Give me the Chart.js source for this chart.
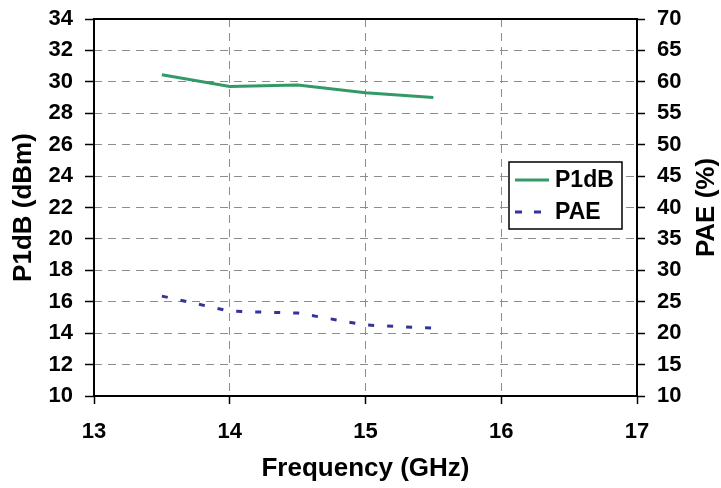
<!DOCTYPE html>
<html>
<head>
<meta charset="utf-8">
<title>P1dB and PAE vs Frequency</title>
<script src="https://cdn.jsdelivr.net/npm/chart.js@4/dist/chart.umd.min.js"></script>
<style>
  html, body { margin: 0; padding: 0; background: #fff; }
  #wrap { width: 721px; height: 488px; }
</style>
</head>
<body>
<div id="wrap"><canvas id="chart" width="721" height="488"></canvas></div>
<script>
'use strict';

// Data.
const freqs = [13.5, 14, 14.5, 15, 15.5];
const p1db = [30.45, 29.7, 29.8, 29.3, 29.0];
const pae = [25.9, 23.5, 23.2, 21.3, 20.8];

const xTitle = 'Frequency (GHz)';
const yTitle = 'P1dB (dBm)';
const y1Title = 'PAE (%)';

const FONT = '"Liberation Sans", Arial, sans-serif';
const GREEN = '#339966';
const NAVY = '#333399';

function points(xs, ys) {
  return xs.map((x, i) => ({ x: x, y: ys[i] }));
}

// Fix the scale box sizes so the plot area lands where the reference has it.
function fitY(width) {
  return function (scale) {
    scale.width = width;
    scale.paddingTop = 0;
    scale.paddingBottom = 0;
  };
}

// Frame, axis titles and the boxed legend, drawn on top of the chart.
const chartDecor = {
  id: 'chartDecor',
  afterDraw: function (chart) {
    const ctx = chart.ctx;
    const a = chart.chartArea;
    const midY = (a.top + a.bottom) / 2;

    ctx.save();
    ctx.strokeStyle = '#000';
    ctx.lineWidth = 2;
    ctx.strokeRect(a.left, a.top, a.right - a.left, a.bottom - a.top);

    // Axis titles.
    ctx.fillStyle = '#000';
    ctx.font = 'bold 26px ' + FONT;
    ctx.textAlign = 'center';
    ctx.textBaseline = 'middle';
    ctx.fillText(xTitle, (a.left + a.right) / 2, 469);

    ctx.save();
    ctx.translate(24, midY);
    ctx.rotate(-Math.PI / 2);
    ctx.fillText(yTitle, 0, 0);
    ctx.restore();

    ctx.save();
    ctx.translate(707, midY);
    ctx.rotate(-Math.PI / 2);
    ctx.fillText(y1Title, 0, 0);
    ctx.restore();

    // Legend box.
    const box = { x: 509, y: 162, w: 113, h: 67 };
    ctx.fillStyle = '#fff';
    ctx.fillRect(box.x, box.y, box.w, box.h);
    ctx.strokeStyle = '#000';
    ctx.lineWidth = 1.5;
    ctx.strokeRect(box.x, box.y, box.w, box.h);

    const rows = [180, 212];
    chart.data.datasets.forEach(function (ds, i) {
      const y = rows[i];
      ctx.beginPath();
      ctx.strokeStyle = ds.borderColor;
      ctx.lineWidth = 3;
      ctx.setLineDash(i === 1 ? [7, 12] : []);
      ctx.moveTo(515, y);
      ctx.lineTo(549, y);
      ctx.stroke();
      ctx.setLineDash([]);

      ctx.fillStyle = '#000';
      ctx.font = 'bold 23px ' + FONT;
      ctx.textAlign = 'left';
      ctx.textBaseline = 'middle';
      ctx.fillText(ds.label, 555, y + 1);
    });
    ctx.restore();
  },
};

const tickFont = { family: FONT, size: 22, weight: 'bold' };

new Chart(document.getElementById('chart'), {
  type: 'line',
  data: {
    datasets: [
      {
        label: 'P1dB',
        data: points(freqs, p1db),
        yAxisID: 'y',
        borderColor: GREEN,
        borderWidth: 3,
        pointRadius: 0,
        tension: 0,
      },
      {
        label: 'PAE',
        data: points(freqs, pae),
        yAxisID: 'y1',
        borderColor: NAVY,
        borderWidth: 3,
        borderDash: [6, 13],
        pointRadius: 0,
        tension: 0,
      },
    ],
  },
  options: {
    responsive: false,
    animation: false,
    layout: { padding: { top: 19, left: 0, right: 0, bottom: 0 } },
    plugins: {
      legend: { display: false },
      tooltip: { enabled: false },
    },
    scales: {
      x: {
        type: 'linear',
        min: 13,
        max: 17,
        ticks: { stepSize: 1, font: tickFont, color: '#000', padding: 15 },
        grid: {
          color: '#8c8c8c',
          lineWidth: 1,
          tickColor: '#000',
          tickLength: 8,
          tickWidth: 1.5,
          tickBorderDash: [],
        },
        border: { display: false, dash: [8, 6] },
        afterFit: function (scale) { scale.height = 92; },
      },
      y: {
        position: 'left',
        min: 10,
        max: 34,
        ticks: { stepSize: 2, font: tickFont, color: '#000', padding: 12 },
        grid: {
          color: '#8c8c8c',
          lineWidth: 1,
          tickColor: '#000',
          tickLength: 9,
          tickWidth: 1.5,
          tickBorderDash: [],
        },
        border: { display: false, dash: [8, 6] },
        afterFit: fitY(94),
      },
      y1: {
        position: 'right',
        min: 10,
        max: 70,
        ticks: { stepSize: 5, font: tickFont, color: '#000', padding: 12 },
        grid: {
          drawOnChartArea: false,
          tickColor: '#000',
          tickLength: 8,
          tickWidth: 1.5,
          tickBorderDash: [],
        },
        border: { display: false },
        afterFit: fitY(84),
      },
    },
  },
  plugins: [chartDecor],
});
</script>
</body>
</html>
